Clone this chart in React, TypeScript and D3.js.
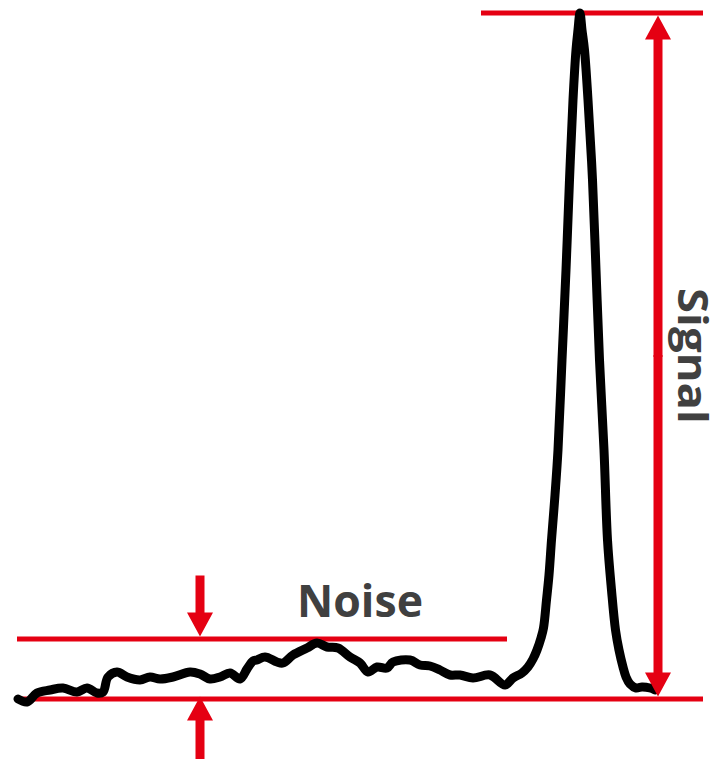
import React from "react";
import * as d3 from "d3";

// Chromatogram trace: time (arbitrary units) and detector intensity (arbitrary units)
const timeValues = [
  1, 10, 20, 33, 46, 60, 70, 80, 86, 91, 100, 110, 123, 133, 143, 156, 173, 183, 193, 203,
  213, 223, 230, 236, 240, 248, 260, 266, 276, 290, 300, 310, 321, 333, 343, 351, 360, 370,
  376, 393, 403, 413, 423, 433, 443, 456, 473, 488, 496, 505, 511, 516, 520, 524, 526.5,
  529.5, 532, 534.5, 538, 541, 545, 549, 552.5, 556, 559, 561, 563, 565, 567.5, 571, 575.5,
  579, 582.5, 587, 590.5, 594.5, 598.5, 602, 606, 609, 613, 619, 625, 633, 638,
];
const intensityValues = [
  0, -3, 6, 9, 11, 7, 11, 6, 7, 22, 27, 22, 19, 22, 20, 22, 27, 25, 20, 22,
  26, 20, 30, 38, 39, 42, 37, 36, 44, 51, 56, 52, 51, 42, 36, 27, 32, 31,
  37, 39, 34, 33, 29, 24, 24, 21, 24, 14, 21, 26, 32, 40, 49, 61, 71,
  99, 124, 159, 204, 249, 339, 429, 519, 599, 649, 669, 686, 669, 649, 599, 519,
  429, 339, 249, 159, 109, 69, 49, 32, 22, 15, 11, 12, 11, 9,
];

const timeDomain = [0, 686];
const intensityDomain = [0, 686];
const noiseLevel = 60;
const noiseLineEnd = 490;
const signalLineStart = 464;
const noiseArrowTime = 183;
const signalArrowTime = 641;
const noiseLabel = "Noise";
const signalLabel = "Signal";

const W = 714;
const H = 759;
const RED = "#e50012";
const TEXT = "#404040";
const LINE_W = 5;
const SHAFT = 9;
const HEAD_W = 26;
const HEAD_L = 24;

function arrowPath(x: number, tipY: number, tailY: number) {
  const dir = tailY > tipY ? 1 : -1;
  const baseY = tipY + dir * HEAD_L;
  const hw = HEAD_W / 2;
  const sw = SHAFT / 2;
  return [
    `M${x},${tipY}`,
    `L${x + hw},${baseY}`,
    `L${x + sw},${baseY}`,
    `L${x + sw},${tailY}`,
    `L${x - sw},${tailY}`,
    `L${x - sw},${baseY}`,
    `L${x - hw},${baseY}`,
    "Z",
  ].join("");
}

export default function App() {
  const x = d3.scaleLinear().domain(timeDomain).range([17, 703]);
  const y = d3.scaleLinear().domain(intensityDomain).range([699, 13]);

  const points: [number, number][] = timeValues.map((t, i) => [t, intensityValues[i]]);
  const line = d3
    .line<[number, number]>()
    .x((d) => x(d[0]))
    .y((d) => y(d[1]))
    .curve(d3.curveCatmullRom.alpha(0.5));

  const peak = d3.max(intensityValues) as number;
  const y0 = y(0);
  const yN = y(noiseLevel);
  const yP = y(peak);
  const half = LINE_W / 2;

  const nx = x(noiseArrowTime);
  const sx = x(signalArrowTime);

  return (
    <svg
      width={W}
      height={H}
      style={{ position: "absolute", left: 0, top: 0, background: "#fff" }}
    >
      <line x1={x(0)} x2={x(686)} y1={y0} y2={y0} stroke={RED} strokeWidth={LINE_W} />
      <line x1={x(0)} x2={x(noiseLineEnd)} y1={yN} y2={yN} stroke={RED} strokeWidth={LINE_W} />
      <line x1={x(signalLineStart)} x2={x(686)} y1={yP} y2={yP} stroke={RED} strokeWidth={LINE_W} />

      <path
        d={line(points) || ""}
        fill="none"
        stroke="#000"
        strokeWidth={9}
        strokeLinejoin="round"
        strokeLinecap="round"
      />

      <path d={arrowPath(nx, yN - half, yN - half - HEAD_L - 37)} fill={RED} />
      <path d={arrowPath(nx, y0 - half, H)} fill={RED} />

      <path d={arrowPath(sx, yP + half, (yP + y0) / 2 + 1)} fill={RED} />
      <path d={arrowPath(sx, y0 - half, (yP + y0) / 2 - 1)} fill={RED} />

      <text
        x={360}
        y={yN - 22}
        textAnchor="middle"
        fontFamily="'Open Sans', 'Noto Sans', sans-serif"
        fontWeight={700}
        fontSize={44}
        fill={TEXT}
        textLength={126}
        lengthAdjust="spacingAndGlyphs"
      >
        {noiseLabel}
      </text>
      <text
        transform={`translate(${sx + 20},${(yP + y0) / 2}) rotate(90)`}
        textAnchor="middle"
        fontFamily="'Open Sans', 'Noto Sans', sans-serif"
        fontWeight={700}
        fontSize={42}
        fill={TEXT}
        textLength={136}
        lengthAdjust="spacingAndGlyphs"
      >
        {signalLabel}
      </text>
    </svg>
  );
}
